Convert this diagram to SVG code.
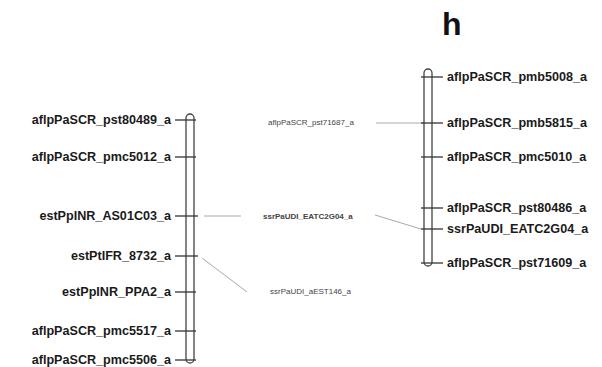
<svg xmlns="http://www.w3.org/2000/svg" width="602" height="367" viewBox="0 0 602 367">
<style>
.bar{fill:none;stroke:#444;stroke-width:1.3}
.tick{stroke:#333;stroke-width:1.3}
.lab{font-family:"Liberation Sans",Arial,sans-serif;font-size:12.6px;font-weight:bold;fill:#1a1a1a}
.l{text-anchor:end}
.mid{font-family:"Liberation Sans",Arial,sans-serif;font-size:8px;fill:#444}
.conn{stroke:#aaa;stroke-width:1;fill:none}
</style>
<rect width="602" height="367" fill="#fff"/>
<text x="442" y="35" font-family="Liberation Sans,Arial,sans-serif" font-size="32" font-weight="bold" fill="#111">h</text>
<g id="connectors">
<line class="conn" x1="204" y1="216" x2="241" y2="216"/>
<line class="conn" x1="202" y1="258" x2="247" y2="292"/>
<line class="conn" x1="376" y1="123" x2="424" y2="123"/>
<line class="conn" x1="375" y1="215" x2="421" y2="229"/>
</g>
<g id="chromosome-left">
<rect class="bar" x="186" y="114" width="8" height="249" rx="4"/>
<g id="L1"><line class="tick" x1="175" y1="120" x2="196" y2="120"/><text class="lab l" x="171" y="124">aflpPaSCR_pst80489_a</text></g>
<g id="L2"><line class="tick" x1="175" y1="157" x2="196" y2="157"/><text class="lab l" x="171" y="161">aflpPaSCR_pmc5012_a</text></g>
<g id="L3"><line class="tick" x1="175" y1="216" x2="198" y2="216"/><text class="lab l" x="171" y="220">estPpINR_AS01C03_a</text></g>
<g id="L4"><line class="tick" x1="175" y1="256" x2="198" y2="256"/><text class="lab l" x="171" y="260">estPtIFR_8732_a</text></g>
<g id="L5"><line class="tick" x1="175" y1="292" x2="196" y2="292"/><text class="lab l" x="171" y="296">estPpINR_PPA2_a</text></g>
<g id="L6"><line class="tick" x1="175" y1="331" x2="196" y2="331"/><text class="lab l" x="171" y="335">aflpPaSCR_pmc5517_a</text></g>
<g id="L7"><line class="tick" x1="175" y1="360" x2="196" y2="360"/><text class="lab l" x="171" y="363.5">aflpPaSCR_pmc5506_a</text></g>
</g>
<g id="middle-markers">
<g id="M1"><text class="mid" x="268" y="125">aflpPaSCR_pst71687_a</text></g>
<g id="M2"><text class="mid" x="263" y="219" font-weight="bold" fill="#111">ssrPaUDI_EATC2G04_a</text></g>
<g id="M3"><text class="mid" x="270" y="294" font-size="7.6">ssrPaUDI_aEST146_a</text></g>
</g>
<g id="chromosome-right">
<rect class="bar" x="424" y="69" width="8" height="197" rx="4"/>
<g id="R1"><line class="tick" x1="421" y1="77" x2="443" y2="77"/><text class="lab" x="447" y="81">aflpPaSCR_pmb5008_a</text></g>
<g id="R2"><line class="tick" x1="421" y1="123" x2="443" y2="123"/><text class="lab" x="447" y="127">aflpPaSCR_pmb5815_a</text></g>
<g id="R3"><line class="tick" x1="421" y1="157" x2="443" y2="157"/><text class="lab" x="447" y="161">aflpPaSCR_pmc5010_a</text></g>
<g id="R4"><line class="tick" x1="421" y1="208" x2="443" y2="208"/><text class="lab" x="447" y="212">aflpPaSCR_pst80486_a</text></g>
<g id="R5"><line class="tick" x1="421" y1="229" x2="443" y2="229"/><text class="lab" x="447" y="233">ssrPaUDI_EATC2G04_a</text></g>
<g id="R6"><line class="tick" x1="421" y1="263" x2="443" y2="263"/><text class="lab" x="447" y="267">aflpPaSCR_pst71609_a</text></g>
</g>
</svg>
